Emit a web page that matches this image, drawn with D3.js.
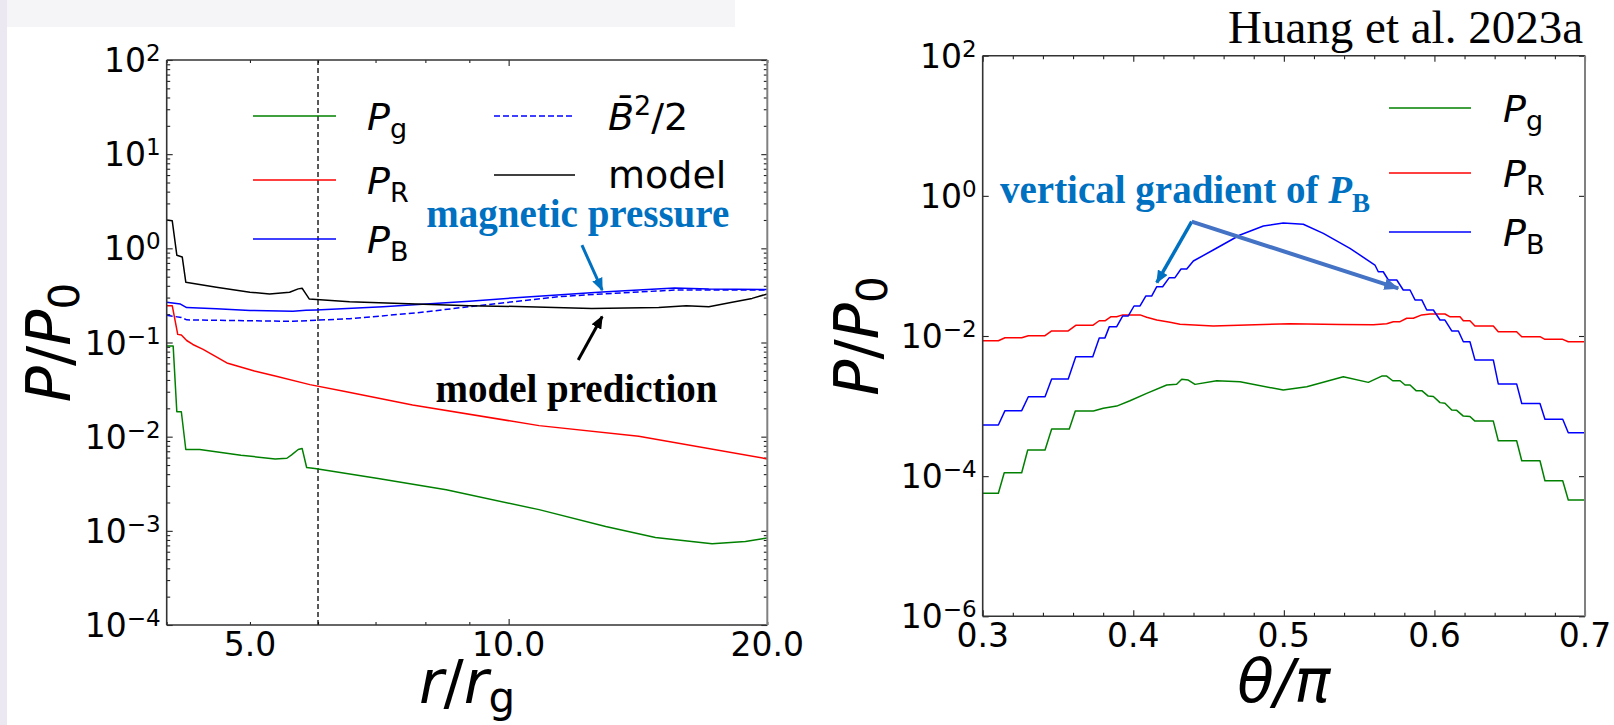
<!DOCTYPE html>
<html>
<head>
<meta charset="utf-8">
<script src="https://cdn.jsdelivr.net/npm/d3@7/dist/d3.min.js"></script>
<style>
body { margin: 0; background: #fff; }
svg { display: block; font-family: "DejaVu Sans", sans-serif; }
</style>
</head>
<body>
<script>
// ---- left panel: pressure vs radius (r / r_g) ----
var rGas = [4.0, 4.07, 4.11, 4.16, 4.21, 4.37, 4.88, 5.35, 5.52, 5.59, 5.69, 5.75, 5.82, 5.95, 7.05, 8.46, 10.85, 12.97, 14.82, 17.25, 18.86, 20.0];
var pGas = [0.0916, 0.0916, 0.0184, 0.0184, 0.0073, 0.0073, 0.00635, 0.0058, 0.0059, 0.0064, 0.0073, 0.0075, 0.0047, 0.0046, 0.0036, 0.00273, 0.00168, 0.00111, 0.00085, 0.00073, 0.00077, 0.00084];

var rRad = [4.0, 4.06, 4.12, 4.16, 4.22, 4.29, 4.41, 4.70, 5.06, 5.35, 5.87, 6.43, 7.73, 10.85, 14.17, 20.0];
var pRad = [0.246, 0.246, 0.122, 0.12, 0.105, 0.0953, 0.0845, 0.0607, 0.0497, 0.0441, 0.0357, 0.0304, 0.0217, 0.0131, 0.0101, 0.0058];

var rMag = [4.0, 4.15, 4.22, 4.57, 5.0, 5.61, 5.81, 5.97, 7.14, 9.0, 10.5, 12.85, 15.6, 17.1, 20.0];
var pMag = [0.267, 0.256, 0.235, 0.228, 0.219, 0.215, 0.22, 0.222, 0.24, 0.275, 0.305, 0.344, 0.38, 0.37, 0.366];

var rBsq = [4.0, 4.16, 4.22, 4.78, 5.61, 6.53, 7.8, 9.0, 11.45, 12.85, 15.6, 20.0];
var pBsq = [0.195, 0.184, 0.174, 0.171, 0.168, 0.179, 0.206, 0.24, 0.307, 0.328, 0.36, 0.36];

var rModel = [4.0, 4.06, 4.11, 4.17, 4.21, 4.57, 5.0, 5.27, 5.56, 5.69, 5.75, 5.79, 5.86, 6.53, 7.8, 9.0, 10.5, 12.5, 14.95, 16.1, 17.1, 18.2, 19.2, 20.0];
var pModel = [2.0, 1.96, 0.845, 0.81, 0.437, 0.386, 0.342, 0.328, 0.342, 0.371, 0.377, 0.342, 0.29, 0.271, 0.256, 0.246, 0.24, 0.23, 0.236, 0.246, 0.24, 0.267, 0.294, 0.328];

var rIsco = 6;

// ---- right panel: pressure vs theta / pi ----
var thGas = [0.3, 0.3104, 0.3143, 0.3259, 0.3299, 0.3414, 0.3458, 0.3575, 0.3615, 0.3735, 0.3801, 0.389, 0.3978, 0.4089, 0.4222, 0.4288, 0.4322, 0.4365, 0.441, 0.4554, 0.4709, 0.4996, 0.5152, 0.5395, 0.5561, 0.565, 0.5683, 0.5723, 0.5772, 0.5805, 0.5838, 0.5878, 0.5916, 0.5959, 0.5993, 0.6037, 0.607, 0.6115, 0.6148, 0.6192, 0.6236, 0.6269, 0.6391, 0.6424, 0.6546, 0.658, 0.6701, 0.6734, 0.6852, 0.6889, 0.7];
var pGasTh = [5.69e-5, 5.69e-5, 1.12e-4, 1.12e-4, 2.36e-4, 2.36e-4, 4.71e-4, 4.71e-4, 8.5e-4, 8.5e-4, 9.3e-4, 1.0e-3, 1.19e-3, 1.52e-3, 2.0e-3, 2.05e-3, 2.41e-3, 2.35e-3, 2.04e-3, 2.3e-3, 2.23e-3, 1.69e-3, 1.89e-3, 2.62e-3, 2.18e-3, 2.68e-3, 2.68e-3, 2.3e-3, 2.3e-3, 2.0e-3, 2.0e-3, 1.66e-3, 1.66e-3, 1.39e-3, 1.37e-3, 1.12e-3, 1.1e-3, 8.8e-4, 8.7e-4, 7.2e-4, 7.1e-4, 6.1e-4, 6.1e-4, 3.2e-4, 3.2e-4, 1.66e-4, 1.66e-4, 8.6e-5, 8.6e-5, 4.56e-5, 4.56e-5];

var thRad = [0.3, 0.3104, 0.3148, 0.3259, 0.3303, 0.3414, 0.3458, 0.3568, 0.3618, 0.3731, 0.3774, 0.3812, 0.385, 0.389, 0.393, 0.4045, 0.4089, 0.4156, 0.4244, 0.431, 0.4531, 0.4753, 0.5041, 0.5373, 0.5594, 0.5683, 0.5727, 0.5772, 0.5816, 0.586, 0.5916, 0.5971, 0.607, 0.6104, 0.617, 0.6192, 0.6236, 0.6269, 0.6391, 0.6424, 0.6546, 0.658, 0.6701, 0.6734, 0.6852, 0.6889, 0.7];
var pRadTh = [8.57e-3, 8.57e-3, 9.45e-3, 9.45e-3, 0.0101, 0.0101, 0.0118, 0.0118, 0.0142, 0.0142, 0.0165, 0.0165, 0.0188, 0.0188, 0.02, 0.02, 0.0185, 0.0169, 0.0157, 0.0147, 0.0139, 0.0144, 0.015, 0.0146, 0.0145, 0.015, 0.016, 0.016, 0.0179, 0.0179, 0.02, 0.0206, 0.0206, 0.0188, 0.0188, 0.0165, 0.0165, 0.0139, 0.0139, 0.0115, 0.0115, 9.77e-3, 9.77e-3, 8.96e-3, 8.96e-3, 8.28e-3, 8.28e-3];

var thMag = [0.3, 0.3104, 0.3148, 0.3259, 0.3303, 0.3414, 0.3458, 0.3568, 0.3618, 0.3731, 0.3774, 0.3812, 0.3841, 0.389, 0.393, 0.3967, 0.4005, 0.4045, 0.4083, 0.4122, 0.4156, 0.4195, 0.4239, 0.4277, 0.4317, 0.4355, 0.4399, 0.4531, 0.4709, 0.4864, 0.4996, 0.5129, 0.5262, 0.5439, 0.5605, 0.5627, 0.566, 0.5694, 0.575, 0.5793, 0.5838, 0.5871, 0.5916, 0.5949, 0.5993, 0.6037, 0.607, 0.6115, 0.6159, 0.6192, 0.6236, 0.6269, 0.6391, 0.6424, 0.6546, 0.658, 0.6701, 0.6734, 0.6852, 0.6889, 0.7];
var pMagTh = [5.37e-4, 5.37e-4, 8.6e-4, 8.6e-4, 1.36e-3, 1.36e-3, 2.43e-3, 2.43e-3, 5.06e-3, 5.06e-3, 9.4e-3, 9.4e-3, 0.0136, 0.0136, 0.0193, 0.0193, 0.0268, 0.0268, 0.0372, 0.0372, 0.0505, 0.0505, 0.068, 0.068, 0.0904, 0.0904, 0.1175, 0.1687, 0.276, 0.371, 0.41, 0.393, 0.292, 0.178, 0.103, 0.0826, 0.0826, 0.063, 0.063, 0.0453, 0.0453, 0.0327, 0.0327, 0.0235, 0.0235, 0.0169, 0.0169, 0.0118, 0.0118, 0.00828, 0.00828, 0.00456, 0.00456, 0.00207, 0.00207, 0.00109, 0.00109, 6.5e-4, 6.5e-4, 4.17e-4, 4.17e-4];

// ---- tick labels ----
var leftXLabelVals = [5, 10, 20];
var leftXLabels = ["5.0", "10.0", "20.0"];
var leftYExps = [-4, -3, -2, -1, 0, 1, 2];
var rightXVals = [0.3, 0.4, 0.5, 0.6, 0.7];
var rightXLabels = ["0.3", "0.4", "0.5", "0.6", "0.7"];
var rightYExps = [-6, -4, -2, 0, 2];

var svg = d3.select("body").append("svg")
    .attr("width", 1614)
    .attr("height", 725);

// faint slide background bits
svg.append("rect").attr("x", 0).attr("y", 0).attr("width", 735).attr("height", 27).attr("fill", "#f5f4f7");
svg.append("rect").attr("x", 0).attr("y", 0).attr("width", 7).attr("height", 725).attr("fill", "#ece8f1");

var defs = svg.append("defs");
function arrowMarker(id, color, w, h) {
    defs.append("marker")
        .attr("id", id)
        .attr("markerUnits", "userSpaceOnUse")
        .attr("markerWidth", w).attr("markerHeight", h)
        .attr("refX", w - 1).attr("refY", h / 2)
        .attr("orient", "auto")
      .append("path")
        .attr("d", "M0,0 L" + w + "," + (h / 2) + " L0," + h + " Z")
        .attr("fill", color);
}
arrowMarker("arBlue", "#0070c0", 13, 11);
arrowMarker("arBlack", "#000", 13, 11);
arrowMarker("arLight", "#4472c4", 15, 12);

// Set the ranges
var xL = d3.scaleLog().domain([4, 20]).range([166.7, 767.3]);
var yL = d3.scaleLog().domain([1e-4, 1e2]).range([625, 60]);
var xR = d3.scaleLinear().domain([0.3, 0.7]).range([982.7, 1585]);
var yR = d3.scaleLog().domain([1e-6, 1e2]).range([616.3, 55.7]);

function supText(sel, base, exp, size, supSize, shift) {
    sel.append("tspan").text(base);
    sel.append("tspan").attr("font-size", supSize).attr("dy", -shift)
        .text(exp < 0 ? "\u2212" + (-exp) : String(exp));
}

function tickGroup(axisFn, scale, values, size, transform) {
    var g = svg.append("g")
        .attr("transform", transform)
        .attr("color", "#222")
        .call(axisFn(scale).tickValues(values).tickSize(-size).tickSizeOuter(0).tickFormat(""));
    g.select(".domain").remove();
    g.selectAll(".tick line").attr("stroke-width", 1.1);
}

function frame(x, y, rightColor) {
    var x0 = x.range()[0], x1 = x.range()[1], y0 = y.range()[1], y1 = y.range()[0];
    svg.append("line").attr("x1", x0).attr("x2", x1).attr("y1", y0).attr("y2", y0).attr("stroke", "#333").attr("stroke-width", 1.6);
    svg.append("line").attr("x1", x0).attr("x2", x1).attr("y1", y1).attr("y2", y1).attr("stroke", "#333").attr("stroke-width", 1.6);
    svg.append("line").attr("x1", x0).attr("x2", x0).attr("y1", y0).attr("y2", y1).attr("stroke", "#333").attr("stroke-width", 1.6);
    svg.append("line").attr("x1", x1).attr("x2", x1).attr("y1", y0).attr("y2", y1).attr("stroke", rightColor).attr("stroke-width", 2);
}

function clip(id, x, y) {
    defs.append("clipPath").attr("id", id).append("rect")
        .attr("x", x.range()[0]).attr("y", y.range()[1])
        .attr("width", x.range()[1] - x.range()[0])
        .attr("height", y.range()[0] - y.range()[1]);
}

function drawLine(x, y, xs, ys, color, clipId, dash) {
    var pts = d3.zip(xs, ys);
    var line = d3.line().x(function(d) { return x(d[0]); }).y(function(d) { return y(d[1]); });
    var p = svg.append("path")
        .attr("d", line(pts))
        .attr("fill", "none")
        .attr("stroke", color)
        .attr("stroke-width", 1.5)
        .attr("stroke-linejoin", "round")
        .attr("clip-path", "url(#" + clipId + ")");
    if (dash) p.attr("stroke-dasharray", dash);
}

// ================= LEFT PANEL =================
clip("clipL", xL, yL);
var lx0 = xL.range()[0], lx1 = xL.range()[1], ly0 = yL.range()[1], ly1 = yL.range()[0];

var leftYMinor = [];
leftYExps.slice(0, -1).forEach(function(e) {
    for (var k = 2; k <= 9; k++) leftYMinor.push(k * Math.pow(10, e));
});
var leftYMajor = leftYExps.map(function(e) { return Math.pow(10, e); });

tickGroup(d3.axisBottom, xL, [10], 6, "translate(0," + ly1 + ")");
tickGroup(d3.axisBottom, xL, [4, 5, 6, 7, 8, 9, 20], 3, "translate(0," + ly1 + ")");
tickGroup(d3.axisTop, xL, [10], 6, "translate(0," + ly0 + ")");
tickGroup(d3.axisTop, xL, [4, 5, 6, 7, 8, 9, 20], 3, "translate(0," + ly0 + ")");
tickGroup(d3.axisLeft, yL, leftYMajor, 6, "translate(" + lx0 + ",0)");
tickGroup(d3.axisLeft, yL, leftYMinor, 3.5, "translate(" + lx0 + ",0)");
tickGroup(d3.axisRight, yL, leftYMajor, 6, "translate(" + lx1 + ",0)");
tickGroup(d3.axisRight, yL, leftYMinor, 3.5, "translate(" + lx1 + ",0)");

// ISCO dashed line
svg.append("line")
    .attr("x1", xL(rIsco)).attr("x2", xL(rIsco))
    .attr("y1", ly0).attr("y2", ly1)
    .attr("stroke", "#000").attr("stroke-width", 1.3)
    .attr("stroke-dasharray", "5,3");

drawLine(xL, yL, rGas, pGas, "#008000", "clipL");
drawLine(xL, yL, rRad, pRad, "#ff0000", "clipL");
drawLine(xL, yL, rMag, pMag, "#0000ff", "clipL");
drawLine(xL, yL, rBsq, pBsq, "#0000ff", "clipL", "6,3");
drawLine(xL, yL, rModel, pModel, "#000000", "clipL");

frame(xL, yL, "#808080");

// tick labels
leftXLabelVals.forEach(function(v, i) {
    svg.append("text").attr("x", xL(v)).attr("y", ly1 + 31)
        .attr("text-anchor", "middle").attr("font-size", 33).text(leftXLabels[i]);
});
leftYExps.forEach(function(e) {
    var t = svg.append("text").attr("x", lx0 - 6).attr("y", yL(Math.pow(10, e)) + 12)
        .attr("text-anchor", "end").attr("font-size", 33);
    supText(t, "10", e, 33, 23, 11);
});

// axis titles
var tl = svg.append("text").attr("x", (lx0 + lx1) / 2).attr("y", 703)
    .attr("text-anchor", "middle").attr("font-size", 60);
tl.append("tspan").attr("font-style", "italic").text("r");
tl.append("tspan").text("/");
tl.append("tspan").attr("font-style", "italic").text("r");
tl.append("tspan").attr("font-size", 42).attr("dy", 9).text("g");

function yTitle(x, cy) {
    var t = svg.append("text").attr("transform", "translate(" + x + "," + cy + ") rotate(-90)")
        .attr("text-anchor", "middle").attr("font-size", 60);
    t.append("tspan").attr("font-style", "italic").text("P");
    t.append("tspan").text("/");
    t.append("tspan").attr("font-style", "italic").text("P");
    t.append("tspan").attr("font-size", 42).attr("dy", 9).text("0");
}
yTitle(70, (ly0 + ly1) / 2);

// legend
function legendLine(x1, x2, y, color, dash) {
    var l = svg.append("line").attr("x1", x1).attr("x2", x2).attr("y1", y).attr("y2", y)
        .attr("stroke", color).attr("stroke-width", 1.5);
    if (dash) l.attr("stroke-dasharray", dash);
}
function legendP(x, y, sub) {
    var t = svg.append("text").attr("x", x).attr("y", y + 14).attr("font-size", 38);
    t.append("tspan").attr("font-style", "italic").text("P");
    t.append("tspan").attr("font-size", 27).attr("dy", 8).text(sub);
}
var legNames = ["g", "R", "B"];
var legColors = ["#008000", "#ff0000", "#0000ff"];
var legRowsL = [116, 180, 239];
legNames.forEach(function(n, i) {
    legendLine(253, 336, legRowsL[i], legColors[i]);
    legendP(367, legRowsL[i], n);
});
legendLine(494, 575, 116, "#0000ff", "6,3");
var tb = svg.append("text").attr("x", 608).attr("y", 130).attr("font-size", 38);
tb.append("tspan").attr("font-style", "italic").text("B\u0304");
tb.append("tspan").attr("font-size", 27).attr("dy", -15).text("2");
tb.append("tspan").attr("dy", 15).text("/2");
legendLine(494, 575, 175, "#000");
svg.append("text").attr("x", 608).attr("y", 188).attr("font-size", 38).text("model");

// annotations
svg.append("text").attr("x", xL(8.02)).attr("y", yL(1.70))
    .attr("font-family", "'Liberation Serif', 'Times New Roman', serif")
    .attr("font-weight", "bold").attr("font-size", 39).attr("fill", "#0070c0")
    .text("magnetic pressure");
svg.append("line")
    .attr("x1", xL(12.17)).attr("y1", yL(1.08)).attr("x2", xL(12.85)).attr("y2", yL(0.359))
    .attr("stroke", "#0070c0").attr("stroke-width", 3).attr("marker-end", "url(#arBlue)");
svg.append("text").attr("x", xL(8.22)).attr("y", yL(0.0232))
    .attr("font-family", "'Liberation Serif', 'Times New Roman', serif")
    .attr("font-weight", "bold").attr("font-size", 39).attr("fill", "#000")
    .text("model prediction");
svg.append("line")
    .attr("x1", xL(12.05)).attr("y1", yL(0.0653)).attr("x2", xL(12.85)).attr("y2", yL(0.189))
    .attr("stroke", "#000").attr("stroke-width", 3).attr("marker-end", "url(#arBlack)");

// ================= RIGHT PANEL =================
clip("clipR", xR, yR);
var rx0 = xR.range()[0], rx1 = xR.range()[1], ry0 = yR.range()[1], ry1 = yR.range()[0];

var rightXMinor = d3.range(0.32, 0.7, 0.02).filter(function(v) {
    return Math.abs(v * 10 - Math.round(v * 10)) > 1e-6;
});
var rightYMajor = [1e-6, 1e-4, 1e-2, 1, 1e2];

tickGroup(d3.axisBottom, xR, rightXVals, 6, "translate(0," + ry1 + ")");
tickGroup(d3.axisBottom, xR, rightXMinor, 3.5, "translate(0," + ry1 + ")");
tickGroup(d3.axisTop, xR, rightXVals, 6, "translate(0," + ry0 + ")");
tickGroup(d3.axisTop, xR, rightXMinor, 3.5, "translate(0," + ry0 + ")");
tickGroup(d3.axisLeft, yR, rightYMajor, 6, "translate(" + rx0 + ",0)");
tickGroup(d3.axisRight, yR, rightYMajor, 6, "translate(" + rx1 + ",0)");

drawLine(xR, yR, thGas, pGasTh, "#008000", "clipR");
drawLine(xR, yR, thRad, pRadTh, "#ff0000", "clipR");
drawLine(xR, yR, thMag, pMagTh, "#0000ff", "clipR");

frame(xR, yR, "#808080");

rightXVals.forEach(function(v, i) {
    svg.append("text").attr("x", xR(v)).attr("y", ry1 + 31)
        .attr("text-anchor", "middle").attr("font-size", 33).text(rightXLabels[i]);
});
rightYExps.forEach(function(e) {
    var t = svg.append("text").attr("x", rx0 - 6).attr("y", yR(Math.pow(10, e)) + 12)
        .attr("text-anchor", "end").attr("font-size", 33);
    supText(t, "10", e, 33, 23, 11);
});

var tr = svg.append("text").attr("x", (rx0 + rx1) / 2).attr("y", 702)
    .attr("text-anchor", "middle").attr("font-size", 60).attr("font-style", "italic");
tr.text("\u03b8/\u03c0");

yTitle(878, (ry0 + ry1) / 2);

var legRowsR = [108, 173, 232];
legNames.forEach(function(n, i) {
    legendLine(1389, 1471, legRowsR[i], legColors[i]);
    legendP(1503, legRowsR[i], n);
});

// annotation: vertical gradient
var vg = svg.append("text").attr("x", xR(0.3115)).attr("y", yR(0.79))
    .attr("font-family", "'Liberation Serif', 'Times New Roman', serif")
    .attr("font-weight", "bold").attr("font-size", 39).attr("fill", "#0070c0");
vg.append("tspan").text("vertical gradient of ");
vg.append("tspan").attr("font-style", "italic").text("P");
vg.append("tspan").attr("font-size", 27).attr("dy", 9).text("B");

svg.append("line")
    .attr("x1", xR(0.4388)).attr("y1", yR(0.428)).attr("x2", xR(0.4156)).attr("y2", yR(0.0576))
    .attr("stroke", "#0070c0").attr("stroke-width", 3.5).attr("marker-end", "url(#arBlue)");
svg.append("line")
    .attr("x1", xR(0.4388)).attr("y1", yR(0.428)).attr("x2", xR(0.576)).attr("y2", yR(0.0479))
    .attr("stroke", "#4472c4").attr("stroke-width", 4).attr("marker-end", "url(#arLight)");

// citation
svg.append("text").attr("x", 1583).attr("y", 43)
    .attr("text-anchor", "end")
    .attr("font-family", "'Liberation Serif', 'Times New Roman', serif")
    .attr("font-size", 47).attr("fill", "#000")
    .text("Huang et al. 2023a");
</script>
</body>
</html>
